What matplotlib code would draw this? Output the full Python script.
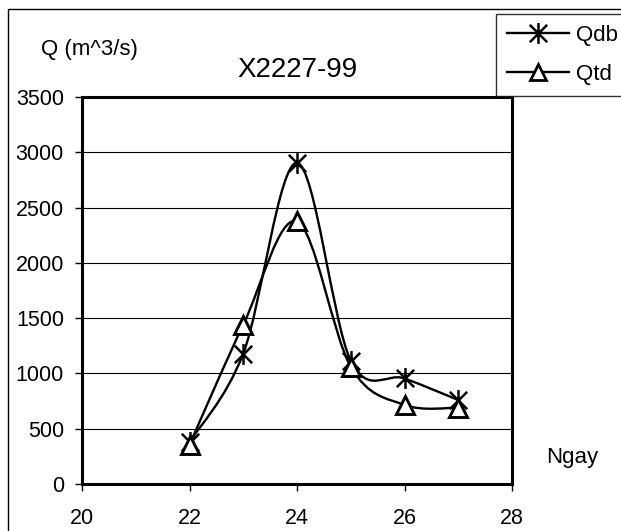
"""
Discharge hydrograph X2227-99: measured (Qdb) vs computed (Qtd), Excel-style smoothed lines.
"""

import matplotlib

matplotlib.use("Agg")
import matplotlib.pyplot as plt
from matplotlib.lines import Line2D
from matplotlib.patches import PathPatch, Rectangle
from matplotlib.path import Path

days = [22, 23, 24, 25, 26, 27]
q_db = [380, 1180, 2905, 1115, 955, 760]
q_td = [355, 1440, 2375, 1060, 715, 690]

x_ticks = [20, 22, 24, 26, 28]
y_ticks = [0, 500, 1000, 1500, 2000, 2500, 3000, 3500]

plt.rcParams["font.family"] = ["Liberation Sans", "DejaVu Sans"]

# asterisk marker: X plus a vertical stroke
_star_verts = [(-1, -1), (1, 1), (-1, 1), (1, -1), (0, -1.2), (0, 1.2)]
_star_codes = [Path.MOVETO, Path.LINETO] * 3
STAR = Path(_star_verts, _star_codes)


def smooth_path(xs, ys, t=1.0 / 6.0):
    # Excel-like smoothing: cubic Bezier through every point
    pts = list(zip(xs, ys))
    n = len(pts)
    verts = [pts[0]]
    codes = [Path.MOVETO]
    for i in range(n - 1):
        p0 = pts[i - 1] if i > 0 else pts[i]
        p1 = pts[i]
        p2 = pts[i + 1]
        p3 = pts[i + 2] if i + 2 < n else pts[i + 1]
        c1 = (p1[0] + (p2[0] - p0[0]) * t, p1[1] + (p2[1] - p0[1]) * t)
        c2 = (p2[0] - (p3[0] - p1[0]) * t, p2[1] - (p3[1] - p1[1]) * t)
        verts += [c1, c2, p2]
        codes += [Path.CURVE4] * 3
    return Path(verts, codes)


fig = plt.figure(figsize=(6.21, 5.31), dpi=100)
fig.patches.append(
    Rectangle((8 / 621, -0.1), 1.2, 1 - 9 / 531 + 0.1, transform=fig.transFigure,
              fill=False, edgecolor="black", linewidth=1.0, zorder=0)
)

ax = fig.add_axes([82 / 621, 47 / 531, 430 / 621, 387 / 531])

for ys in (q_db, q_td):
    ax.add_patch(PathPatch(smooth_path(days, ys), fill=False, edgecolor="black",
                           linewidth=1.7, zorder=3))

ax.plot(days, q_db, linestyle="none", marker=STAR, markersize=15,
        markeredgewidth=1.8, color="black", zorder=4)
ax.plot(days, q_td, linestyle="none", marker="^", markersize=13,
        markeredgewidth=2.1, markerfacecolor="white", markeredgecolor="black", zorder=4)

ax.set_xlim(20, 28)
ax.set_ylim(0, 3500)
ax.set_xticks(x_ticks)
ax.set_yticks(y_ticks)
ax.tick_params(direction="out", length=5, width=1, labelsize=15.5)
ax.tick_params(axis="x", pad=12)
ax.tick_params(axis="y", pad=8)
ax.yaxis.grid(True, color="black", linewidth=0.8)
ax.set_axisbelow(True)
for sp in ax.spines.values():
    sp.set_linewidth(2.2)

fig.text(89 / 621, 1 - 50 / 531, "Q (m^3/s)", ha="center", va="center", fontsize=16)
fig.text(297 / 621, 1 - 70 / 531, "X2227-99", ha="center", va="center", fontsize=20)
fig.text(572 / 621, 1 - 458 / 531, "Ngay", ha="center", va="center", fontsize=16)

handles = [
    Line2D([], [], color="black", linewidth=1.7, marker=STAR, markersize=15, markeredgewidth=1.8),
    Line2D([], [], color="black", linewidth=1.7, marker="^", markersize=12,
           markeredgewidth=2.0, markerfacecolor="white"),
]
leg = fig.legend(handles, ["Qdb", "Qtd"], loc="upper left",
                 bbox_to_anchor=(496 / 621, 1 - 14 / 531), fontsize=16,
                 frameon=True, fancybox=False, edgecolor="black", handlelength=2.8,
                 handletextpad=0.3, labelspacing=0.8, borderpad=0.5, borderaxespad=0)
leg.get_frame().set_linewidth(1.0)

fig.savefig("out.png", dpi=100)
